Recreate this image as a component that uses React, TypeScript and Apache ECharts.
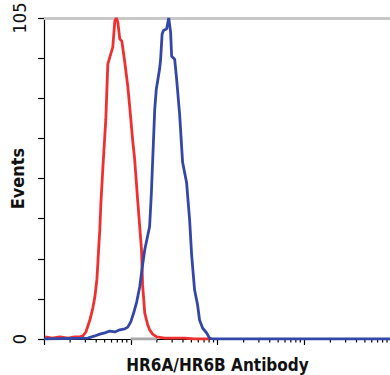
import React, { useEffect, useRef } from "react";
import * as echarts from "echarts";

// Fluorescence intensity (log scale) and event counts
const redX = [1.03, 1.24, 1.53, 1.89, 2.27, 2.59, 2.81, 3.04, 3.38, 3.66, 3.86, 4.07, 4.18, 4.29, 4.4, 4.52, 4.76, 5.16, 5.44, 5.74, 6.21, 6.55, 6.81, 7.09, 7.48, 7.88, 8.53, 9.24, 9.74, 10.5, 11.1, 12.0, 13.3, 13.7, 14.5, 15.7, 16.5, 17.9, 19.9, 24.6, 32.1, 41.8, 54.4, 80.9];
const redCount = [0.7, 0.3, 0.7, 0.3, 0.7, 0.7, 1.0, 2.3, 6.2, 10.2, 13.8, 19.4, 24.9, 30.8, 35.8, 44.0, 55.5, 71.9, 89.9, 92.2, 95.5, 104, 105, 103.7, 98.1, 97.5, 90.6, 82.7, 75.8, 65.3, 58.7, 45.6, 29.2, 17.7, 8.5, 4.6, 3.0, 1.6, 0.7, 0.3, 0.3, 0.3, 0, 0];

const blueX = [1, 3.2, 3.86, 4.4, 5.02, 5.74, 6.55, 7.48, 8.53, 9.24, 10.0, 10.8, 11.7, 12.7, 13.7, 14.5, 16.5, 17.3, 18.9, 19.7, 21.5, 22.1, 23.0, 23.9, 25.9, 27.4, 28.8, 29.6, 32.1, 33.8, 36.6, 39.6, 44.0, 47.7, 50.3, 54.4, 58.9, 62.1, 67.3, 74.8, 80.9, 87.6, 10000];
const blueCount = [0, 0.3, 1.0, 1.6, 2.0, 2.6, 2.3, 3.0, 3.3, 3.9, 5.6, 8.5, 12.1, 17.1, 24.3, 29.2, 36.8, 47.9, 75.1, 81.7, 88.3, 91.5, 99.8, 101, 101.4, 105, 100.4, 92.5, 91.5, 85, 73.5, 57.8, 51.2, 39.0, 27.6, 16.1, 11.2, 6.2, 3.6, 2.0, 0.3, 0, 0];

const grayX = [10, 20];
const grayCount = [0, 0];

const yTickLabels = [0, 105];
const decades = [1, 10, 100, 1000];
const minorMultipliers = [2, 3, 4, 5, 6, 7, 8, 9];

const xTitle = "HR6A/HR6B Antibody";
const yTitle = "Events";

const zip = (xs: number[], ys: number[]) => xs.map((x, i) => [x, ys[i]]);

export default function App() {
  const ref = useRef<HTMLDivElement>(null);
  useEffect(() => {
    if (!ref.current) return;
    const chart = echarts.init(ref.current, null, { renderer: "svg" });
    const minorTicks: number[][] = [];
    decades.forEach((d) => minorMultipliers.forEach((m) => minorTicks.push([m * d, 0])));
    const font = "'Liberation Sans Narrow', 'DejaVu Sans Condensed', Roboto, sans-serif";
    chart.setOption({
      animation: false,
      backgroundColor: "#ffffff",
      grid: { left: 44, top: 18, width: 347, height: 321, outerBoundsMode: "none", containLabel: false },
      xAxis: [
        {
          type: "log",
          logBase: 10,
          min: 1,
          max: 10000,
          name: xTitle,
          nameLocation: "middle",
          nameGap: 17,
          nameMoveOverlap: false,
          nameTextStyle: {
            fontFamily: font,
            fontWeight: "bold",
            fontSize: 17,
            color: "#111",
            verticalAlign: "top",
          },
          axisLine: { show: true, lineStyle: { color: "#000", width: 1.2 } },
          axisTick: { show: true, length: 6, lineStyle: { color: "#000", width: 1.2 } },
          axisLabel: { show: false },
          splitLine: { show: false },
          minorTick: { show: false },
        },
        {
          type: "value",
          position: "top",
          min: 0,
          max: 1,
          axisLine: { show: true, lineStyle: { color: "#c8c8c8", width: 3 } },
          axisTick: { show: false },
          axisLabel: { show: false },
          splitLine: { show: false },
        },
      ],
      yAxis: {
        type: "value",
        min: 0,
        max: 105,
        interval: 13.125,
        name: yTitle,
        nameLocation: "middle",
        nameGap: 18,
        nameMoveOverlap: false,
        nameTextStyle: {
          fontFamily: font,
          fontWeight: "bold",
          fontSize: 18,
          color: "#111",
        },
        axisLine: { show: true, lineStyle: { color: "#000", width: 1.2 } },
        axisTick: { show: true, length: 6, lineStyle: { color: "#000", width: 1.2 } },
        axisLabel: {
          rotate: 90,
          margin: 16,
          fontFamily: font,
          fontSize: 18,
          color: "#111",
          formatter: (v: number) => (yTickLabels.includes(v) ? String(v) : ""),
        },
        splitLine: { show: false },
      },
      series: [
        {
          type: "custom",
          name: "minorTicks",
          data: minorTicks,
          silent: true,
          renderItem: (params: any, api: any) => {
            const p = api.coord([api.value(0), 0]);
            return {
              type: "line",
              shape: { x1: p[0], y1: p[1], x2: p[0], y2: p[1] + 3.5 },
              style: { stroke: "#000", lineWidth: 1.2 },
            };
          },
        },
        {
          type: "line",
          name: "gray",
          data: zip(grayX, grayCount),
          showSymbol: false,
          lineStyle: { color: "#a8a8a8", width: 3 },
        },
        {
          type: "line",
          name: "red",
          data: zip(redX, redCount),
          showSymbol: false,
          lineStyle: { color: "#ee3030", width: 2.8 },
        },
        {
          type: "line",
          name: "blue",
          data: zip(blueX, blueCount),
          showSymbol: false,
          lineStyle: { color: "#3347a8", width: 2.8 },
        },
      ],
    });
    return () => chart.dispose();
  }, []);
  return (
    <div
      ref={ref}
      style={{ position: "fixed", left: 0, top: 0, width: 390, height: 375 }}
    />
  );
}
